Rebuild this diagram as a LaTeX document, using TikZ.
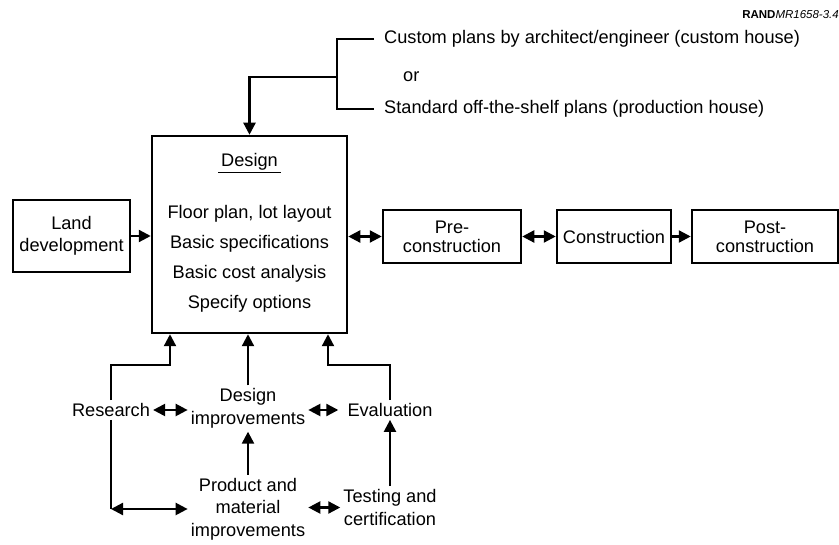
\documentclass[tikz,border=0pt]{standalone}
\usepackage{fontspec}
\setmainfont{Liberation Sans}
\usetikzlibrary{arrows.meta}
\begin{document}
\begin{tikzpicture}[x=1pt,y=-1pt,
  every node/.style={font=\fontsize{18.2}{22}\selectfont},
  box/.style={draw, line width=2.5pt, align=center, inner sep=0pt},
  lbl/.style={align=center, inner sep=3pt},
  conn/.style={line width=2.3pt},
  arr/.style={conn, -{Triangle[length=12pt,width=12pt]}},
  darr/.style={conn, {Triangle[length=12pt,width=12pt]}-{Triangle[length=12pt,width=12pt]}}
]
\useasboundingbox (0,0) rectangle (839,545);

% label
\node[anchor=east, inner sep=0pt, font=\fontsize{11.5}{13}\selectfont] (rand) at (839,15) {\textbf{RAND}\textit{MR1658-3.4}};

% top texts
\node[anchor=west, inner sep=0pt] (custom) at (384,39) {Custom plans by architect/engineer (custom house)};
\node[anchor=west, inner sep=0pt] (or) at (403,77) {or};
\node[anchor=west, inner sep=0pt] (standard) at (384,109) {Standard off-the-shelf plans (production house)};

% boxes
\node[box, minimum width=117pt, minimum height=72pt] (land) at (71.5,236) {Land\\development};
\node[box, minimum width=195pt, minimum height=197pt] (design) at (249.5,234.5) {};
\node[lbl] (dtitle) at (249.5,163) {\underline{\,Design\,}};
\node[lbl, font=\fontsize{18.2}{30}\selectfont] (dtext) at (249.5,259) {Floor plan, lot layout\\Basic specifications\\Basic cost analysis\\Specify options};
\node[box, minimum width=138pt, minimum height=53pt, font=\fontsize{18.2}{19}\selectfont] (pre) at (452,236.5) {Pre-\\construction};
\node[box, minimum width=114pt, minimum height=53pt] (con) at (614,236.5) {Construction};
\node[box, minimum width=146pt, minimum height=53pt, font=\fontsize{18.2}{19}\selectfont] (post) at (765,236.5) {Post-\\construction};

% bottom texts
\node[lbl] (research) at (111,410) {Research};
\node[lbl, font=\fontsize{18.2}{23}\selectfont] (desimp) at (248,408.5) {Design\\improvements};
\node[lbl] (eval) at (390,410) {Evaluation};
\node[lbl, font=\fontsize{18.2}{22.5}\selectfont] (prod) at (248,509) {Product and\\material\\improvements};
\node[lbl, font=\fontsize{18.2}{23}\selectfont] (test) at (390,507.5) {Testing and\\certification};

% bracket
\coordinate (bk) at (337,77);
\draw[conn] ([xshift=-10pt]custom.west) -| (bk) |- ([xshift=-10pt]standard.west);
\draw[arr] (bk) -| (design.north);

% main chain
\draw[arr] (land.east) -- (land.east -| design.west);
\draw[darr] (design.east |- pre.west) -- (pre.west);
\draw[darr] (pre.east) -- (con.west);
\draw[arr] (con.east) -- (post.west);

% feedback
\coordinate (lj) at (170,365);
\coordinate (rj) at (328,365);
\draw[arr] (research.north) |- (lj) -- (lj |- design.south);
\draw[arr] (desimp.north) -- (desimp.north |- design.south);
\draw[arr] (eval.north) |- (rj) -- (rj |- design.south);
\draw[darr] (research.east) -- (desimp.west |- research.east);
\draw[darr, shorten >=6pt] (desimp.east |- eval.west) -- (eval.west);
\draw[arr] (prod.north) -- (prod.north |- desimp.south);
\draw[arr] (test.north) -- (test.north |- eval.south);
\draw[conn] (research.south) -- (research.south |- prod.west);
\draw[darr] (research.south |- prod.west) -- (prod.west);
\draw[darr] (prod.east |- test.west) -- (test.west);
\end{tikzpicture}
\end{document}
